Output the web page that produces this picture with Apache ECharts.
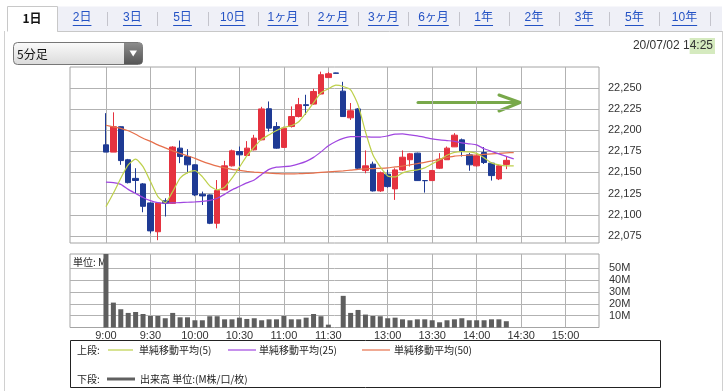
<!DOCTYPE html>
<html><head><meta charset="utf-8">
<script src="https://cdn.jsdelivr.net/npm/echarts@6/dist/echarts.min.js"></script>
<style>html,body{margin:0;padding:0;background:#fff;}#c{width:728px;height:391px;}</style>
</head><body><div id="c"></div>
<script>
// ---- data ----
const tabLabels = ['1日','2日','3日','5日','10日','1ヶ月','2ヶ月','3ヶ月','6ヶ月','1年','2年','3年','5年','10年'];
const tickSlots = [0,6,12,18,24,30,38,44,50,56,62];
const tickLabels = ['9:00','9:30','10:00','10:30','11:00','11:30','13:00','13:30','14:00','14:30','15:00'];
const priceTicks = [22075,22100,22125,22150,22175,22200,22225,22250];
const volTicks = [10,20,30,40,50];
const slots = [0,1,2,3,4,5,6,7,8,9,10,11,12,13,14,15,16,17,18,19,20,21,22,23,24,25,26,27,28,29,30,31,32,33,34,35,36,37,38,39,40,41,42,43,44,45,46,47,48,49,50,51,52,53,54];
const maSlots = [0,1,2,3,4,5,6,7,8,9,10,11,12,13,14,15,16,17,18,19,20,21,22,23,24,25,26,27,28,29,30,31,32,33,34,35,36,37,38,39,40,41,42,43,44,45,46,47,48,49,50,51,52,53,54,55];
const open = [22182.6,22174,22204,22165,22143,22136.5,22114,22080,22116.5,22113.5,22178.7,22168.8,22159,22124.3,22123.5,22090,22129.4,22157.8,22174.7,22170,22176.7,22188.5,22225.2,22204.2,22179.6,22204.2,22216,22230,22230.7,22242.6,22262,22267.5,22246,22214.5,22225,22152.2,22159.8,22128.2,22148,22130.6,22153,22165,22172.8,22140.4,22140.4,22155,22165,22180.2,22188.5,22170.8,22157.8,22173.5,22161,22142.4,22159.5];
const close = [22174,22204,22164,22138,22140.5,22110,22081,22114,22113.5,22180,22168.8,22159,22123.5,22122.3,22090,22128.6,22157.8,22175.5,22170.8,22178.7,22190.5,22225,22202.3,22178.7,22202.3,22216,22230,22229,22245.6,22265.4,22266.5,22267,22216,22222.8,22155,22157.8,22128.2,22149.5,22133.3,22153,22168,22172,22140.4,22140.3,22152.2,22165.7,22178.7,22194,22174.7,22159,22169.6,22161.7,22146.3,22157.8,22164.3];
const low = [22174,22174,22159,22137,22125.5,22103,22078,22070,22098,22113,22161,22149,22122,22111.6,22089,22084,22129,22157,22153,22170,22176,22188,22198.3,22178,22179,22203,22215,22218,22230,22242,22262,22267,22216,22212,22154,22149,22127.5,22127,22132,22117.6,22152,22157,22140,22126.2,22140,22154,22165,22180,22168.8,22152,22157,22160,22140.4,22141,22153.9];
const high = [22220,22221,22204.5,22166,22155,22137.5,22114.5,22114.5,22119.5,22181,22187.7,22177.5,22159.5,22127.4,22124,22141,22163.7,22177,22180.6,22187,22194.4,22227.5,22233.8,22209.4,22204,22228,22238,22241.7,22248.8,22269,22268.5,22267.8,22257,22232,22226,22176,22162.8,22151,22153,22155,22176,22173,22173.3,22140.6,22153,22172.8,22180.6,22196.4,22190,22173,22171,22180,22162,22159,22168.8];
const volume = [62,21,15.4,12.3,13.1,11.4,9.7,9.7,7.8,12.3,8.6,8.6,6.1,6.1,9.5,9.5,6.9,6.9,8.3,7.2,7.8,6.1,6.9,6.9,9.7,6.9,6.9,8.3,11.4,9.5,2.4,0,26.7,12.3,14.8,10.9,9.7,9.5,7.8,8.3,6.9,6.1,6.9,6.9,6.1,4.4,6.1,6.9,7.8,6.1,6.1,6.1,6.9,6.9,5.3];
const sma5 = [22109.6,22125.5,22143.2,22158.9,22165.7,22156.9,22139.2,22121.5,22114.4,22127.4,22143.2,22149.8,22152.2,22145.1,22134.1,22129.4,22132.6,22143.2,22156.2,22169.6,22179.9,22189.3,22194.4,22199.5,22203.3,22205.1,22209.8,22220.4,22232.3,22244.1,22248.8,22253.0,22251.5,22247.6,22229.9,22198.0,22170.8,22156.6,22145.9,22144.8,22149.5,22151.9,22153.0,22155.4,22160.1,22164.9,22170.2,22173.7,22174.7,22174.3,22172.5,22167.2,22161.3,22158.9,22157.8,22157.8];
const sma25 = [22138.5,22138.0,22135.9,22130.0,22125.2,22120.5,22116.7,22114.4,22113.7,22114.0,22114.4,22114.8,22115.2,22115.8,22117.0,22119.6,22124.1,22129.4,22133.5,22137.7,22141.2,22147.7,22153.6,22156.2,22156.8,22157.8,22160.1,22163.1,22167.8,22174.3,22181.4,22186.5,22190.3,22192.4,22192.4,22192.1,22191.7,22191.7,22193.2,22195.3,22195.6,22194.4,22193.2,22191.5,22189.7,22188.5,22187.6,22186.7,22185.0,22183.8,22182.6,22177.9,22174.9,22172.0,22169.0,22166.0];
const sma50 = [22205.7,22203.9,22202.1,22199.2,22195.0,22190.3,22186.7,22182.6,22179.0,22175.5,22172.5,22169.6,22166.6,22163.1,22160.1,22157.4,22155.4,22153.6,22152.4,22151.3,22150.4,22149.7,22149.1,22148.7,22148.3,22148.3,22148.5,22148.9,22149.3,22150.1,22150.7,22151.3,22151.9,22152.7,22153.6,22154.2,22154.6,22154.9,22155.4,22156.6,22157.5,22159.0,22160.4,22161.9,22163.7,22165.7,22167.6,22169.3,22170.0,22170.4,22170.8,22171.4,22172.0,22172.5,22173.1,22173.5];

// ---- chart ----
const FONT = '"Liberation Sans", Arial, "Noto Sans CJK JP", sans-serif';
const JFONT = '"Noto Sans CJK JP", "Liberation Sans", sans-serif';
const RED = '#e5323f', BLUE = '#1e3a94', GRID = '#b2b2b2';
const candleData = open.map((o, i) => [slots[i], o, close[i], low[i], high[i]]);
const volData = volume.map((v, i) => [slots[i], v]);
const ma = arr => arr.map((v, i) => [maSlots[i], v]);

const mctx = document.createElement('canvas').getContext('2d');
function tw(text, font) { mctx.font = font; return mctx.measureText(text).width; }

const graphic = [];
// outer frame
graphic.push({type:'line', shape:{x1:4.5,y1:31,x2:4.5,y2:391}, style:{stroke:'#d0d0d0',lineWidth:1}});
graphic.push({type:'line', shape:{x1:722.5,y1:31,x2:722.5,y2:391}, style:{stroke:'#d0d0d0',lineWidth:1}});
// tab bar
graphic.push({type:'rect', shape:{x:57,y:6.5,width:665,height:25}, style:{fill:'#eff0f7'}});
graphic.push({type:'line', shape:{x1:57,y1:31.5,x2:722,y2:31.5}, style:{stroke:'#c8c8c8',lineWidth:1}});
graphic.push({type:'polyline', shape:{points:[[7.5,31.5],[7.5,6.5],[57.5,6.5],[57.5,31.5]]}, style:{stroke:'#c8c8c8',fill:'#fff',lineWidth:1}});
const tabW = 50.2;
tabLabels.forEach((t, k) => {
  const cx = k === 0 ? 32 : 57 + tabW * (k - 0.5);
  if (k === 0) {
    graphic.push({type:'text', x:cx, y:18, style:{text:t, font:'bold 12px ' + JFONT, fill:'#111', align:'center', verticalAlign:'middle'}});
  } else {
    const f = '12px ' + FONT;
    const w = tw(t, f);
    graphic.push({type:'text', x:cx, y:18, style:{text:t, font:f, fill:'#2452c4', align:'center', verticalAlign:'middle'}});
    graphic.push({type:'line', shape:{x1:cx - w/2, y1:25.5, x2:cx + w/2, y2:25.5}, style:{stroke:'#2452c4', lineWidth:1}});
    const sx = 57 + tabW * k;
    if (k < tabLabels.length) graphic.push({type:'line', shape:{x1:Math.round(sx)+0.5, y1:12, x2:Math.round(sx)+0.5, y2:26}, style:{stroke:'#c4c4cc', lineWidth:1}});
  }
});
// dropdown
graphic.push({type:'rect', shape:{x:13.5,y:42.5,width:129,height:22,r:4}, style:{fill:{type:'linear',x:0,y:0,x2:0,y2:1,colorStops:[{offset:0,color:'#fbfbfb'},{offset:1,color:'#dadada'}]}, stroke:'#777', lineWidth:1}});
graphic.push({type:'rect', shape:{x:124,y:43,width:18.5,height:21,r:[0,3,3,0]}, style:{fill:{type:'linear',x:0,y:0,x2:0,y2:1,colorStops:[{offset:0,color:'#8c8c8c'},{offset:1,color:'#555'}]}}});
graphic.push({type:'polygon', shape:{points:[[129.5,50.5],[137,50.5],[133.2,56.5]]}, style:{fill:'#fff'}});
graphic.push({type:'text', x:17, y:54, style:{text:'5分足', font:'12px ' + JFONT, fill:'#111', verticalAlign:'middle'}});
// date
graphic.push({type:'text', x:715, y:46, style:{text:'20/07/02 1{g|4:25}', font:'12px ' + FONT, fill:'#333', align:'right', verticalAlign:'middle', rich:{g:{font:'12px ' + FONT, fill:'#333', backgroundColor:'#d5eabf', padding:[2,2,2,0]}}}});
// arrow annotation
graphic.push({type:'polyline', shape:{points:[[418,102.5],[519,102.5]]}, style:{stroke:'#78a84a',lineWidth:3,lineCap:'round'}});
graphic.push({type:'polyline', shape:{points:[[499,95],[520,102.5],[499,111]]}, style:{stroke:'#78a84a',lineWidth:3,lineCap:'round',lineJoin:'round',fill:null}});
// volume unit
graphic.push({type:'text', x:73, y:262, style:{text:'単位: M', font:'10px ' + JFONT, fill:'#222', verticalAlign:'middle'}});
// legend box
graphic.push({type:'rect', shape:{x:70.5,y:340.5,width:590,height:47}, style:{stroke:'#222',fill:null,lineWidth:1}});
const LF = '10px ' + JFONT;
graphic.push({type:'text', x:77, y:350, style:{text:'上段:', font:LF, fill:'#222', verticalAlign:'middle'}});
graphic.push({type:'line', shape:{x1:108,y1:350,x2:133,y2:350}, style:{stroke:'#bdd04a',lineWidth:1.2}});
graphic.push({type:'text', x:139, y:350, style:{text:'単純移動平均(5)', font:LF, fill:'#222', verticalAlign:'middle'}});
graphic.push({type:'line', shape:{x1:228,y1:350,x2:256,y2:350}, style:{stroke:'#a046e0',lineWidth:1.2}});
graphic.push({type:'text', x:259, y:350, style:{text:'単純移動平均(25)', font:LF, fill:'#222', verticalAlign:'middle'}});
graphic.push({type:'line', shape:{x1:362,y1:350,x2:390,y2:350}, style:{stroke:'#e6704c',lineWidth:1.2}});
graphic.push({type:'text', x:394, y:350, style:{text:'単純移動平均(50)', font:LF, fill:'#222', verticalAlign:'middle'}});
graphic.push({type:'text', x:77, y:379, style:{text:'下段:', font:LF, fill:'#222', verticalAlign:'middle'}});
graphic.push({type:'line', shape:{x1:107,y1:379,x2:135,y2:379}, style:{stroke:'#606060',lineWidth:3}});
graphic.push({type:'text', x:140, y:379, style:{text:'出来高 単位:(M株/口/枚)', font:LF, fill:'#222', verticalAlign:'middle'}});

const xBase = gi => ({
  type:'value', gridIndex:gi, min:-4.85, max:66.5,
  axisLine:{show:false},
  axisTick:{show:false, customValues:tickSlots},
  splitLine:{show:true, lineStyle:{color:GRID, width:1}},
  axisLabel:{show:gi === 1, customValues:tickSlots, margin:3, fontSize:11, color:'#333', fontFamily:FONT,
    formatter: v => { const k = tickSlots.indexOf(v); return k >= 0 ? tickLabels[k] : ''; }}
});

const option = {
  animation:false,
  backgroundColor:'#fff',
  grid:[
    {left:70, top:67, width:529, height:176, show:true, borderColor:'#a4a4a4', borderWidth:1, backgroundColor:'#fff'},
    {left:70, top:254, width:529, height:73.5, show:true, borderColor:'#a4a4a4', borderWidth:1, backgroundColor:'#fff'}
  ],
  xAxis:[xBase(0), xBase(1)],
  yAxis:[
    {type:'value', gridIndex:0, position:'right', min:22066.7, max:22274.5, scale:true,
     axisLine:{show:false}, axisTick:{show:false, customValues:priceTicks},
     splitLine:{show:true, lineStyle:{color:GRID, width:1}},
     axisLabel:{customValues:priceTicks, margin:9, fontSize:11, color:'#333', fontFamily:FONT,
       formatter: v => Math.round(v).toLocaleString('en-US')}},
    {type:'value', gridIndex:1, position:'right', min:0, max:62,
     axisLine:{show:false}, axisTick:{show:false, customValues:volTicks},
     splitLine:{show:true, lineStyle:{color:GRID, width:1}},
     axisLabel:{customValues:volTicks, margin:10, fontSize:11, color:'#333', fontFamily:FONT,
       formatter: v => v + 'M'}}
  ],
  graphic: graphic,
  series:[
    {type:'candlestick', xAxisIndex:0, yAxisIndex:0, data:candleData, barWidth:6,
     itemStyle:{color:RED, color0:BLUE, borderColor:RED, borderColor0:BLUE, borderWidth:1}},
    {type:'line', xAxisIndex:0, yAxisIndex:0, data:ma(sma50), showSymbol:false, symbol:'none', smooth:0.2,
     lineStyle:{color:'#e6704c', width:1.2}, z:3},
    {type:'line', xAxisIndex:0, yAxisIndex:0, data:ma(sma25), showSymbol:false, symbol:'none', smooth:0.2,
     lineStyle:{color:'#a046e0', width:1.2}, z:3},
    {type:'line', xAxisIndex:0, yAxisIndex:0, data:ma(sma5), showSymbol:false, symbol:'none', smooth:0.2,
     lineStyle:{color:'#bdd04a', width:1.2}, z:3},
    {type:'bar', xAxisIndex:1, yAxisIndex:1, data:volData, barWidth:5,
     itemStyle:{color:'#5e5e5e'}}
  ]
};
const chart = echarts.init(document.getElementById('c'));
chart.setOption(option);
</script></body></html>
